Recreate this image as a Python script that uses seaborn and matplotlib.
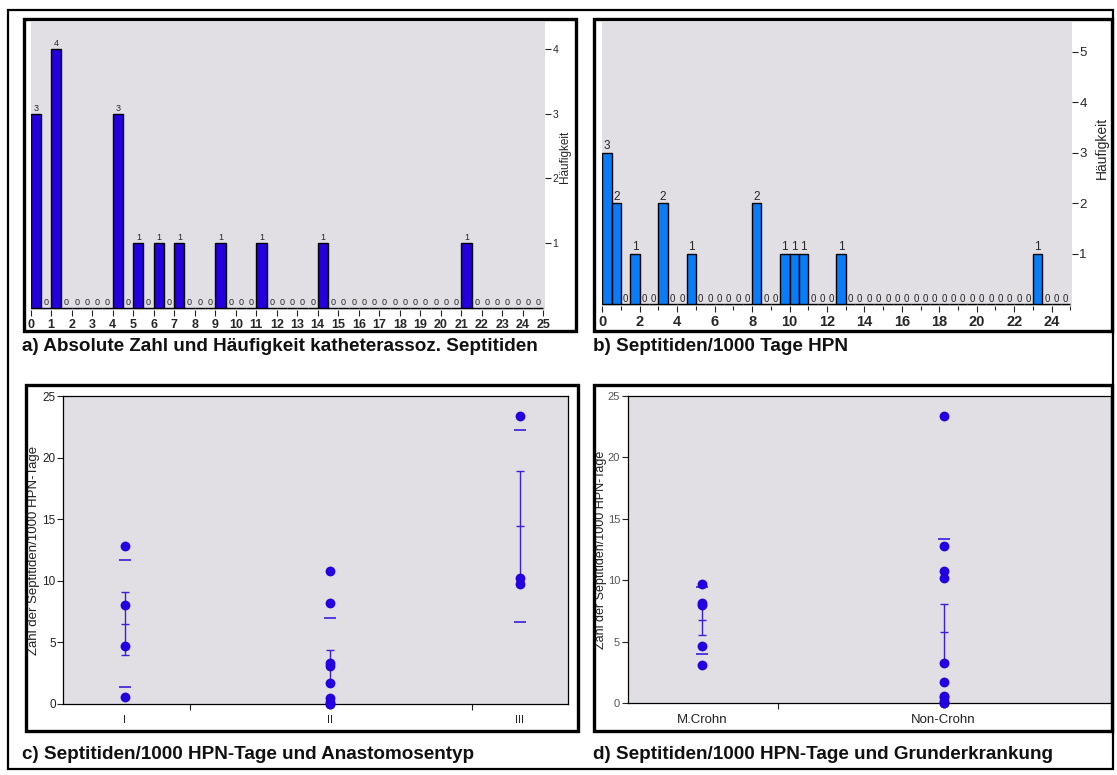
import numpy as np
import pandas as pd
import matplotlib
matplotlib.use("Agg")
import matplotlib.pyplot as plt
from matplotlib.patches import Rectangle
import seaborn as sns

# ---------------- data ----------------
# a) absolute number of catheter-associated septitides per patient
sepsis_counts = [0, 0, 0, 1, 1, 1, 1, 4, 4, 4, 5, 6, 7, 9, 11, 14, 21]

# b) - d) septitides per 1000 HPN days, with anastomosis type and diagnosis
rates = [12.8, 8.0, 4.7, 0.6,
         10.8, 8.2, 3.3, 3.1, 1.7, 0.5, 0.2, 0.0, 0.0,
         23.4, 10.2, 9.7]
anastomosis = ["I"] * 4 + ["II"] * 9 + ["III"] * 3
diagnosis = ["Non-Crohn", "M.Crohn", "M.Crohn", "Non-Crohn",
             "Non-Crohn", "M.Crohn", "Non-Crohn", "M.Crohn", "Non-Crohn",
             "Non-Crohn", "Non-Crohn", "Non-Crohn", "Non-Crohn",
             "Non-Crohn", "Non-Crohn", "M.Crohn"]

anast_order = ["I", "II", "III"]
diag_order = ["M.Crohn", "Non-Crohn"]

captions = ["a) Absolute Zahl und Häufigkeit katheterassoz. Septitiden",
            "b) Septitiden/1000 Tage HPN",
            "c) Septitiden/1000 HPN-Tage und Anastomosentyp",
            "d) Septitiden/1000 HPN-Tage und Grunderkrankung"]
freq_label = "Häufigkeit"
rate_label = "Zahl der Septitiden/1000 HPN-Tage"

df = pd.DataFrame({"rate": rates, "anastomosis": anastomosis, "diagnosis": diagnosis})

# ---------------- layout / style ----------------
sns.set_style("white")
plt.rcParams["font.family"] = ["Liberation Sans", "DejaVu Sans"]

W, H = 1117, 775
BG = "#e1dfe4"
BAR_A = "#2400dc"
BAR_B = "#0a7cf8"
PT = "#2200e0"
LN = "#3a1ee0"

fig = plt.figure(figsize=(W / 100, H / 100), dpi=100)


def px_rect(x0, y0, x1, y1):
    return [x0 / W, 1 - y1 / H, (x1 - x0) / W, (y1 - y0) / H]


# frames
def frame(x0, y0, x1, y1, lw):
    fig.patches.append(Rectangle((x0 / W, 1 - y1 / H), (x1 - x0) / W, (y1 - y0) / H,
                                 transform=fig.transFigure, fill=False,
                                 edgecolor="black", linewidth=lw, zorder=10))


frame(8, 10, 1113, 769, 1.6)
frame(24, 19, 576, 331, 2.4)
frame(594, 19, 1112, 331, 2.4)
frame(26, 385, 578, 731, 2.4)
frame(594, 385, 1112, 731, 2.4)

# captions
CAP = 13.6
fig.text(22 / W, 1 - 351 / H, captions[0], fontsize=CAP, fontweight="bold", va="baseline",
         color="#111111")
fig.text(593 / W, 1 - 351 / H, captions[1], fontsize=CAP, fontweight="bold", va="baseline",
         color="#111111")
fig.text(22 / W, 1 - 759 / H, captions[2], fontsize=CAP, fontweight="bold", va="baseline",
         color="#111111")
fig.text(593 / W, 1 - 759 / H, captions[3], fontsize=CAP, fontweight="bold", va="baseline",
         color="#111111")


# ---------------- histograms ----------------
def hist_panel(ax, values, color, ymax, yticks, xmajor, xminor, xlabsize, lab_small, lab_big,
               ylabsize, ylab_pos, ylab_size):
    edges = np.arange(0, 25.5, 0.5)
    sns.histplot(x=values, bins=edges, ax=ax, color=color, edgecolor="black",
                 linewidth=1.0, alpha=1.0)
    ax.set_facecolor(BG)
    for s in ax.spines.values():
        s.set_visible(False)
    ax.set_xlim(0, 25.08)
    ax.set_ylim(-0.03, ymax)
    cont = ax.containers[0]
    heights = [int(round(p.get_height())) for p in cont.patches]
    texts = ax.bar_label(cont, labels=[str(h) for h in heights], padding=0.5)
    for t, h in zip(texts, heights):
        t.set_fontsize(lab_big if h > 0 else lab_small)
    ax.set_xticks(xmajor)
    ax.set_xticklabels([str(v) for v in xmajor], fontweight="bold", fontsize=xlabsize)
    if xminor is not None:
        ax.set_xticks(xminor, minor=True)
    ax.tick_params(axis="x", which="major", bottom=True, length=4.5, width=0.8,
                   color="#222222", pad=2)
    ax.tick_params(axis="x", which="minor", bottom=True, length=3, width=0.8, color="#222222")
    ax.yaxis.tick_right()
    ax.yaxis.set_label_position("right")
    ax.set_yticks(yticks)
    ax.set_yticklabels([str(v) for v in yticks])
    ax.tick_params(axis="y", which="major", right=True, left=False, length=4, width=0.8,
                   color="#222222", labelsize=ylabsize, pad=1.5)
    ax.set_ylabel(freq_label, fontsize=ylab_size, rotation=90)
    ax.yaxis.label.set_va("center")
    ax.yaxis.set_label_coords(*ylab_pos)
    ax.set_xlabel("")


ax_a = fig.add_axes(px_rect(30.7, 21.7, 545, 309.5))
hist_panel(ax_a, sepsis_counts, BAR_A, 4.42, [1, 2, 3, 4], list(range(26)), None,
           9, 6.5, 6.5, 7.5, (1.039, 0.53), 8.5)

ax_b = fig.add_axes(px_rect(602.3, 21.7, 1071.7, 306))
hist_panel(ax_b, rates, BAR_B, 5.6, [1, 2, 3, 4, 5], list(range(0, 25, 2)),
           list(range(1, 26, 2)), 10.5, 7, 8.5, 9.5, (1.064, 0.555), 10)
ax_b.set_xlim(0, 25.07)


# ---------------- group panels ----------------
def group_panel(ax, col, order, pos, xlim, minor, xlabsize, ylabcolor, ylab_x,
                ytsize, ylsize):
    d = df.copy()
    d["xpos"] = d[col].map(pos)
    st = d.groupby(col)["rate"].agg(["mean", "std", "count"]).reindex(order)
    st["se"] = st["std"] / np.sqrt(st["count"])
    xs = np.array([pos[k] for k in order])
    ax.set_facecolor(BG)
    # mean +/- SD dashes
    ax.plot(xs, st["mean"] + st["std"], linestyle="none", marker="_", markersize=9,
            markeredgewidth=1.2, color=LN, zorder=2)
    ax.plot(xs, st["mean"] - st["std"], linestyle="none", marker="_", markersize=9,
            markeredgewidth=1.2, color=LN, zorder=2)
    # mean +/- SE
    ax.errorbar(xs, st["mean"], yerr=st["se"], fmt="_", markersize=6, capsize=3.2,
                elinewidth=1.0, capthick=1.0, markeredgewidth=1.0, color=LN, zorder=2)
    sns.scatterplot(data=d, x="xpos", y="rate", ax=ax, color=PT, s=50, linewidth=0,
                    zorder=3, clip_on=False, legend=False)
    ax.set_xlim(*xlim)
    ax.set_ylim(0, 25)
    ax.set_yticks([0, 5, 10, 15, 20, 25])
    ax.tick_params(axis="y", left=True, length=4.5, width=0.8, color="#222222",
                   labelsize=ytsize, labelcolor=ylabcolor, pad=1)
    ax.set_xticks(xs)
    ax.set_xticklabels(order, fontsize=xlabsize, color="#222222")
    ax.set_xticks(minor, minor=True)
    ax.tick_params(axis="x", which="major", bottom=True, length=0, pad=8)
    ax.tick_params(axis="x", which="minor", bottom=True, length=4, width=0.8, color="#222222")
    for s in ax.spines.values():
        s.set_visible(True)
        s.set_color("black")
        s.set_linewidth(0.9)
    ax.set_xlabel("")
    ax.set_ylabel(rate_label, fontsize=ylsize, color="#222222")
    ax.yaxis.label.set_va("center")
    ax.yaxis.set_label_coords(ylab_x, 0.5)


c_pos = {"I": 0.0, "II": 1.04, "III": 2.0}
ax_c = fig.add_axes(px_rect(63.3, 396, 568.3, 704))
group_panel(ax_c, "anastomosis", anast_order, c_pos, (-0.312, 2.245), [0.33, 1.757],
            8, "#222222", -0.058, 8.5, 9.5)

d_pos = {"M.Crohn": 0.0, "Non-Crohn": 1.0}
ax_d = fig.add_axes(px_rect(627.7, 396, 1110.7, 703.3))
group_panel(ax_d, "diagnosis", diag_order, d_pos, (-0.309, 1.692), [0.312],
            9.5, "#555555", -0.056, 8, 9)

fig.savefig("out.png", dpi=100)
